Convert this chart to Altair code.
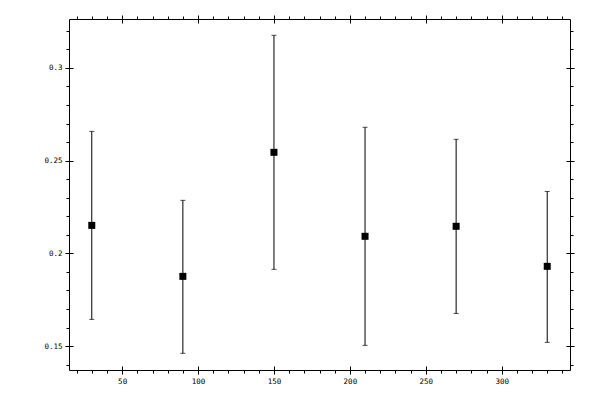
import altair as alt
import pandas as pd

# data
angles = [30, 90, 150, 210, 270, 330]
means = [0.2151, 0.1876, 0.2545, 0.2092, 0.2146, 0.1930]
lows = [0.1644, 0.1461, 0.1914, 0.1504, 0.1676, 0.1520]
highs = [0.2658, 0.2286, 0.3176, 0.2680, 0.2615, 0.2334]

x_major = [50, 100, 150, 200, 250, 300]
x_minor = [20, 30, 40, 50, 60, 70, 80, 90, 100, 110, 120, 130, 140, 150, 160, 170,
           180, 190, 200, 210, 220, 230, 240, 250, 260, 270, 280, 290, 300, 310,
           320, 330, 340]
y_major = [0.15, 0.2, 0.25, 0.3]
y_minor = [0.14, 0.15, 0.16, 0.17, 0.18, 0.19, 0.2, 0.21, 0.22, 0.23, 0.24, 0.25,
           0.26, 0.27, 0.28, 0.29, 0.3, 0.31, 0.32]

df = pd.DataFrame({"x": angles, "y": means, "lo": lows, "hi": highs})

xs = alt.Scale(domain=[15, 345], nice=False, zero=False)
ys = alt.Scale(domain=[0.1371, 0.3264], nice=False, zero=False)

FONT = "DejaVu Sans Mono"
FS = 7.5


def ax(orient, values, size, labels=False, offset=0, fmt=None):
    kw = dict(orient=orient, values=values, tickSize=size, tickColor="black",
              tickWidth=1, domain=False, grid=False, title=None, labels=labels,
              offset=offset)
    if labels:
        kw.update(labelFont=FONT, labelFontSize=FS, labelColor="black",
                  labelPadding=3)
        if fmt:
            kw["format"] = fmt
    return alt.Axis(**kw)


base = alt.Chart(df)

points = base.mark_square(size=49, color="black", opacity=1).encode(
    x=alt.X("x:Q", scale=xs, axis=ax("bottom", x_major, 4, labels=True, fmt="d")),
    y=alt.Y("y:Q", scale=ys, axis=ax("left", y_major, 4, labels=True, fmt="~g")),
)

rules = base.mark_rule(color="black", strokeWidth=1).encode(
    x=alt.X("x:Q", scale=xs, axis=ax("bottom", x_minor, 3)),
    y=alt.Y("lo:Q", scale=ys, axis=ax("left", y_minor, 3)),
    y2="hi:Q",
)

caps_lo = base.mark_tick(color="black", orient="horizontal", size=5, thickness=1).encode(
    x=alt.X("x:Q", scale=xs, axis=ax("bottom", x_major, 4, offset=-4)),
    y=alt.Y("lo:Q", scale=ys, axis=ax("left", y_major, 4, offset=-4)),
)

caps_hi = base.mark_tick(color="black", orient="horizontal", size=5, thickness=1).encode(
    x=alt.X("x:Q", scale=xs, axis=ax("top", x_major, 4)),
    y=alt.Y("hi:Q", scale=ys, axis=ax("right", y_major, 4)),
)

inv1 = base.mark_point(opacity=0).encode(
    x=alt.X("x:Q", scale=xs, axis=ax("top", x_minor, 3)),
    y=alt.Y("y:Q", scale=ys, axis=ax("right", y_minor, 3)),
)

inv2 = base.mark_point(opacity=0).encode(
    x=alt.X("x:Q", scale=xs, axis=ax("top", x_major, 4, offset=-4)),
    y=alt.Y("y:Q", scale=ys, axis=ax("right", y_major, 4, offset=-4)),
)

chart = (
    alt.layer(points, rules, caps_lo, caps_hi, inv1, inv2)
    .resolve_axis(x="independent", y="independent")
    .properties(
        width=501,
        height=351,
        autosize=alt.AutoSizeParams(type="none"),
        padding={"left": 61, "top": 11, "right": 20, "bottom": 20},
        background="white",
    )
    .configure_view(stroke="black", strokeWidth=1)
)

chart.save("out.html", embed_options={"renderer": "svg", "actions": False})
